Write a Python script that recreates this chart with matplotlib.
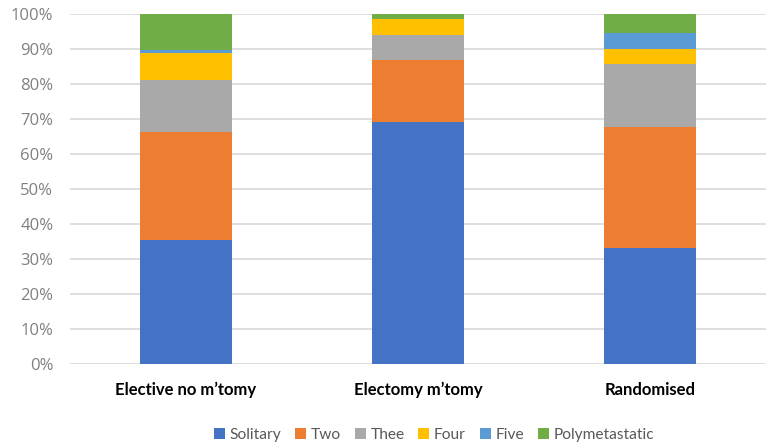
import matplotlib
matplotlib.use("Agg")
import matplotlib.pyplot as plt
import numpy as np

groups = ["Elective no m\u2019tomy", "Electomy m\u2019tomy", "Randomised"]
series = ["Solitary", "Two", "Thee", "Four", "Five", "Polymetastatic"]
solitary = [35.3, 69.0, 33.2]
two = [31.1, 17.9, 34.6]
three = [14.8, 7.2, 17.8]
four = [7.7, 4.5, 4.4]
five = [0.7, 0.0, 4.5]
poly = [10.4, 1.4, 5.5]
colors = ["#4472C4", "#ED7D31", "#A9A9A9", "#FFC000", "#5B9BD5", "#70AD47"]

values = [solitary, two, three, four, five, poly]

fig = plt.figure(figsize=(7.69, 4.48), dpi=100)
ax = fig.add_axes([70 / 769, 1 - 364 / 448, 696 / 769, 350 / 448])

x = np.arange(len(groups))
bottom = np.zeros(len(groups))
for name, vals, c in zip(series, values, colors):
    vals = np.array(vals)
    ax.bar(x, vals, 0.4, bottom=bottom, color=c, label=name, zorder=3, linewidth=0)
    bottom += vals

ax.set_xlim(-0.5, 2.5)
ax.set_ylim(0, 100)
ax.set_yticks(np.arange(0, 101, 10))
ax.set_yticklabels([f"{v}%" for v in range(0, 101, 10)], fontfamily="Open Sans",
                   fontsize=12, color="#808080")
ax.set_xticks(x)
ax.set_xticklabels(groups, fontfamily="Lato", fontweight="bold", fontsize=12, color="#000000")
ax.tick_params(axis="x", length=0, pad=13)
ax.tick_params(axis="y", length=0, pad=12)
ax.grid(axis="y", color="#D9D9D9", linewidth=1.2, zorder=0)
for s in ax.spines.values():
    s.set_visible(False)

fig.legend(loc="center", bbox_to_anchor=(434 / 769, 1 - 435 / 448), ncol=6, frameon=False,
           handlelength=0.7, handleheight=0.7, handletextpad=0.3, columnspacing=0.9,
           prop={"family": "Lato", "size": 11.2}, labelcolor="#595959")

fig.savefig("out.png", dpi=100, facecolor="white")
